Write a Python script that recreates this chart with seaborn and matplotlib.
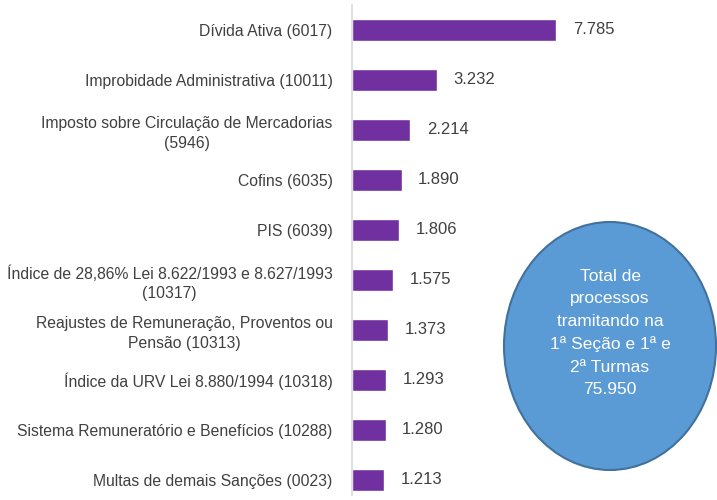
import matplotlib
matplotlib.use('Agg')
import matplotlib.pyplot as plt
import seaborn as sns
import pandas as pd
from matplotlib.patches import Ellipse

# Dados
categorias = [
    'Dívida Ativa (6017)',
    'Improbidade Administrativa (10011)',
    'Imposto sobre Circulação de Mercadorias\n(5946)',
    'Cofins (6035)',
    'PIS (6039)',
    'Índice de 28,86% Lei 8.622/1993 e 8.627/1993\n(10317)',
    'Reajustes de Remuneração, Proventos ou\nPensão (10313)',
    'Índice da URV Lei 8.880/1994 (10318)',
    'Sistema Remuneratório e Benefícios (10288)',
    'Multas de demais Sanções (0023)',
]
valores = [7785, 3232, 2214, 1890, 1806, 1575, 1373, 1293, 1280, 1213]
rotulos = ['7.785', '3.232', '2.214', '1.890', '1.806', '1.575', '1.373', '1.293', '1.280', '1.213']
texto_total = 'Total de\nprocessos\ntramitando na\n1ª Seção e 1ª e\n2ª Turmas\n75.950'

df = pd.DataFrame({'categoria': categorias, 'valor': valores})

sns.set_style('white')
plt.rcParams['font.family'] = ['Liberation Sans', 'DejaVu Sans']

fig = plt.figure(figsize=(7.17, 5.0), dpi=100)
ax = fig.add_axes([352 / 717, -5 / 500, 365 / 717, 500 / 500])

sns.barplot(data=df, y='categoria', x='valor', color='#7030A0', width=0.45,
            saturation=1, ax=ax)

ax.set_xlim(0, 13930)
ax.set_ylim(9.5, -0.5)
ax.set_xlabel('')
ax.set_ylabel('')
ax.set_xticks([])
for s in ['top', 'right', 'bottom']:
    ax.spines[s].set_visible(False)
ax.spines['left'].set_color('#D9D9D9')
ax.spines['left'].set_linewidth(1.2)
ax.spines['left'].set_bounds(9.3, -0.5)
ax.tick_params(axis='y', length=0, pad=14, labelsize=11.3, labelcolor='#404040')
for lbl in ax.get_yticklabels():
    lbl.set_multialignment('center')
    lbl.set_linespacing(1.35)

for i, (v, r) in enumerate(zip(valores, rotulos)):
    ax.annotate(r, xy=(v, i), xytext=(12, 0), textcoords='offset points',
                va='center', ha='left', fontsize=12, color='#404040')

# Elipse com o total
ell = Ellipse((610 / 717, 1 - 346 / 500), 212 / 717, 248 / 500, transform=fig.transFigure,
              facecolor='#5B9BD5', edgecolor='#41719C', linewidth=1.5, clip_on=False)
fig.patches.append(ell)
fig.text(610 / 717, 1 - 333 / 500, texto_total, ha='center', va='center',
         color='white', fontsize=12.5, linespacing=1.6)

fig.savefig('out.png', dpi=100)
